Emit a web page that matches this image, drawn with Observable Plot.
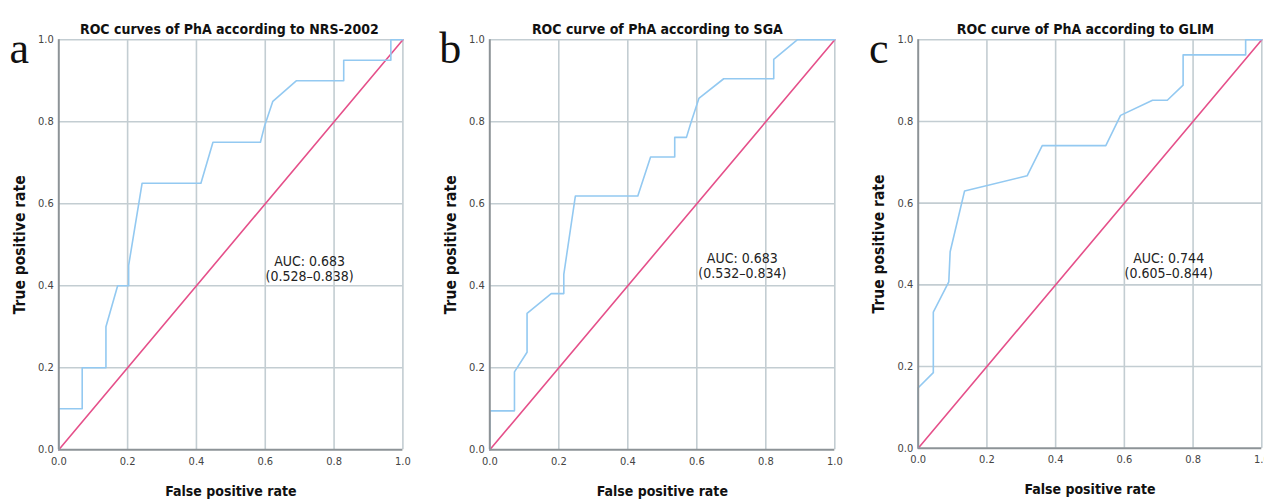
<!DOCTYPE html>
<html><head><meta charset="utf-8">
<script src="https://cdn.jsdelivr.net/npm/d3@7"></script>
<script src="https://cdn.jsdelivr.net/npm/@observablehq/plot@0.6"></script>
<style>
html,body{margin:0;padding:0;background:#fff;}
#root{position:relative;width:1264px;height:500px;overflow:hidden;background:#fff;}
.panel{position:absolute;top:0;}
</style></head><body><div id="root"></div>
<script>
const ticks = [0, 0.2, 0.4, 0.6, 0.8, 1.0];
const gridTicks = [0.2, 0.4, 0.6, 0.8, 1.0];
const diagonal = [0, 1];
const panelLetters = ["a", "b", "c"];
const titles = [
  "ROC curves of PhA according to NRS-2002",
  "ROC curve of PhA according to SGA",
  "ROC curve of PhA according to GLIM"
];
const aucLabels = [
  "AUC: 0.683\n(0.528–0.838)",
  "AUC: 0.683\n(0.532–0.834)",
  "AUC: 0.744\n(0.605–0.844)"
];
const xLabel = "False positive rate";
const yLabel = "True positive rate";

// NRS-2002
const nrsFPR = [0, 0, 0.068, 0.068, 0.137, 0.137, 0.171, 0.203, 0.203, 0.242, 0.413, 0.448, 0.586, 0.598, 0.622, 0.690, 0.828, 0.828, 0.965, 0.965, 1];
const nrsTPR = [0, 0.1, 0.1, 0.2, 0.2, 0.3, 0.4, 0.4, 0.45, 0.65, 0.65, 0.75, 0.75, 0.79, 0.85, 0.9, 0.9, 0.95, 0.95, 1, 1];
// SGA
const sgaFPR = [0, 0, 0.0715, 0.0715, 0.108, 0.108, 0.178, 0.2145, 0.2145, 0.248, 0.429, 0.466, 0.536, 0.536, 0.570, 0.582, 0.606, 0.678, 0.823, 0.823, 0.891, 1];
const sgaTPR = [0, 0.095, 0.095, 0.19, 0.238, 0.333, 0.381, 0.381, 0.428, 0.619, 0.619, 0.714, 0.714, 0.762, 0.762, 0.795, 0.857, 0.905, 0.905, 0.952, 1, 1];
// GLIM
const glimFPR = [0, 0, 0.044, 0.044, 0.089, 0.093, 0.135, 0.317, 0.361, 0.546, 0.589, 0.682, 0.725, 0.771, 0.771, 0.953, 0.953, 1];
const glimTPR = [0, 0.148, 0.185, 0.333, 0.407, 0.481, 0.63, 0.667, 0.741, 0.741, 0.815, 0.852, 0.852, 0.889, 0.963, 0.963, 1, 1];

const SANS = "'DejaVu Sans Condensed', 'Liberation Sans Narrow', 'Roboto Condensed', 'DejaVu Sans', sans-serif";
const BLUE = "#93c9f1", PINK = "#e5508a", GRID = "#c3cdd2", AXIS = "#8d9397";

const layouts = [
  {left: 0,   width: 430, ml: 58.3, mr: 27.6, mt: 39.3, mb: 50.7, tdx: -1.5, aucX: 0.729, aucY: 0.441},
  {left: 430, width: 430, ml: 59.3, mr: 25.7, mt: 39.3, mb: 50.7, tdx: -5,   aucX: 0.732, aucY: 0.449},
  {left: 860, width: 404, ml: 57.7, mr: 2.7,  mt: 39.3, mb: 52.3, tdx: -4.5, aucX: 0.729, aucY: 0.447}
];
const series = [[nrsFPR, nrsTPR], [sgaFPR, sgaTPR], [glimFPR, glimTPR]];

const root = document.getElementById("root");
series.forEach(([fpr, tpr], i) => {
  const L = layouts[i];
  const data = fpr.map((x, k) => ({x, y: tpr[k]}));
  const chart = Plot.plot({
    width: L.width, height: 500,
    marginLeft: L.ml, marginRight: L.mr, marginTop: L.mt, marginBottom: L.mb,
    x: {domain: [0, 1]}, y: {domain: [0, 1]},
    style: {fontFamily: SANS, background: "transparent", overflow: "hidden"},
    marks: [
      Plot.gridX(gridTicks, {stroke: GRID, strokeOpacity: 1, strokeWidth: 1.6}),
      Plot.gridY(gridTicks, {stroke: GRID, strokeOpacity: 1, strokeWidth: 1.6}),
      Plot.line(diagonal, {x: d => d, y: d => d, stroke: PINK, strokeWidth: 1.6}),
      Plot.line(data, {x: "x", y: "y", stroke: BLUE, strokeWidth: 1.6, curve: "linear"}),
      Plot.ruleX([0], {stroke: AXIS, strokeWidth: 2}),
      Plot.ruleY([0], {stroke: AXIS, strokeWidth: 2}),
      Plot.axisX(ticks, {tickSize: 0, tickPadding: 7, tickFormat: d3.format(".1f"), fontSize: 11, fill: "#444", label: null}),
      Plot.axisY(ticks, {tickSize: 0, tickPadding: 5, tickFormat: d3.format(".1f"), fontSize: 11, fill: "#444", label: null}),
      Plot.text([titles[i]], {text: d => d, frameAnchor: "top", lineAnchor: "bottom", dy: -6, dx: L.tdx, fontWeight: "bold", fontSize: 14, fill: "#111"}),
      Plot.text([panelLetters[i]], {text: d => d, frameAnchor: "top-left", textAnchor: "middle", lineAnchor: "bottom", dx: -39.5, dy: 23, fontSize: 44, fontFamily: "'Liberation Serif', 'DejaVu Serif', serif", fill: "#111"}),
      Plot.text([yLabel], {text: d => d, frameAnchor: "left", rotate: -90, textAnchor: "middle", lineAnchor: "middle", dx: -39, fontWeight: "bold", fontSize: 15.5, fill: "#111"}),
      Plot.text([xLabel], {text: d => d, frameAnchor: "bottom", lineAnchor: "bottom", dy: 46, fontWeight: "bold", fontSize: 14, fill: "#111"}),
      Plot.text([aucLabels[i]], {text: d => d, x: () => L.aucX, y: () => L.aucY, lineAnchor: "middle", lineHeight: 1.05, fontSize: 14, fill: "#222"})
    ]
  });
  const div = document.createElement("div");
  div.className = "panel";
  div.style.left = L.left + "px";
  div.appendChild(chart);
  root.appendChild(div);
});
</script></body></html>
